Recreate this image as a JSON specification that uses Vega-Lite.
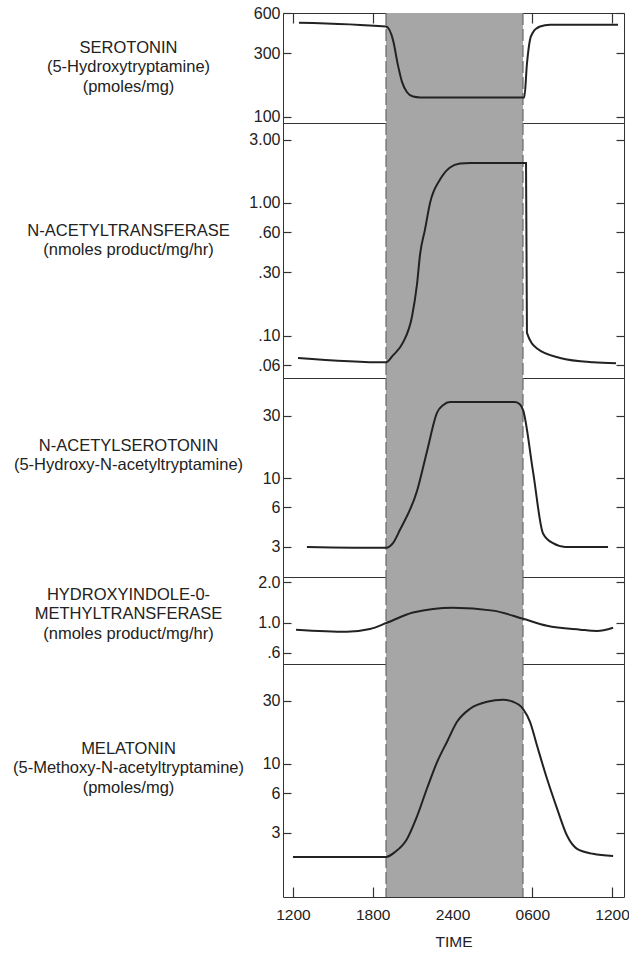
{
  "$schema": "https://vega.github.io/schema/vega-lite/v6.json",
  "padding": {"left": 11, "top": 4, "right": 2, "bottom": 0},
  "background": "white",
  "spacing": 0,
  "bounds": "flush",
  "config": {
    "font": "Liberation Sans",
    "view": {"stroke": "#333", "strokeWidth": 1},
    "axis": {
      "grid": false,
      "domain": false,
      "tickColor": "#333",
      "tickWidth": 1.2,
      "labelFont": "Liberation Sans",
      "labelFontSize": 16,
      "labelColor": "#222",
      "titleFont": "Liberation Sans",
      "titleFontSize": 16.5,
      "titleFontWeight": "normal",
      "titleColor": "#222",
      "titleLineHeight": 19.5
    }
  },
  "datasets": {
    "dark": [{"hour": 19.0, "end": 29.3}],
    "edges": [{"hour": 19.0}, {"hour": 29.3}],
    "curves": [
      {"s": "ser", "hour": 12.45, "value": 508},
      {"s": "ser", "hour": 19.0, "value": 475},
      {"s": "ser", "hour": 19.52, "value": 378},
      {"s": "ser", "hour": 19.9, "value": 243},
      {"s": "ser", "hour": 20.2, "value": 183},
      {"s": "ser", "hour": 20.58, "value": 153},
      {"s": "ser", "hour": 21.03, "value": 142},
      {"s": "ser", "hour": 21.56, "value": 140},
      {"s": "ser", "hour": 29.4, "value": 140},
      {"s": "ser", "hour": 29.6, "value": 250},
      {"s": "ser", "hour": 29.83, "value": 378},
      {"s": "ser", "hour": 30.06, "value": 430},
      {"s": "ser", "hour": 30.58, "value": 475},
      {"s": "ser", "hour": 31.34, "value": 490},
      {"s": "ser", "hour": 36.45, "value": 490},

      {"s": "nat", "hour": 12.38, "value": 0.068},
      {"s": "nat", "hour": 19.0, "value": 0.063},
      {"s": "nat", "hour": 19.52, "value": 0.071},
      {"s": "nat", "hour": 20.28, "value": 0.089},
      {"s": "nat", "hour": 20.95, "value": 0.139},
      {"s": "nat", "hour": 21.33, "value": 0.244},
      {"s": "nat", "hour": 21.56, "value": 0.41},
      {"s": "nat", "hour": 21.93, "value": 0.63},
      {"s": "nat", "hour": 22.31, "value": 1.0},
      {"s": "nat", "hour": 23.06, "value": 1.5},
      {"s": "nat", "hour": 23.81, "value": 1.85},
      {"s": "nat", "hour": 24.57, "value": 1.98},
      {"s": "nat", "hour": 25.32, "value": 2.0},
      {"s": "nat", "hour": 29.53, "value": 2.0},
      {"s": "nat", "hour": 29.6, "value": 0.105},
      {"s": "nat", "hour": 30.36, "value": 0.08},
      {"s": "nat", "hour": 32.09, "value": 0.068},
      {"s": "nat", "hour": 34.57, "value": 0.063},
      {"s": "nat", "hour": 36.3, "value": 0.062},

      {"s": "nas", "hour": 13.05, "value": 3.0},
      {"s": "nas", "hour": 19.0, "value": 2.95},
      {"s": "nas", "hour": 19.52, "value": 3.2},
      {"s": "nas", "hour": 20.05, "value": 4.05},
      {"s": "nas", "hour": 21.33, "value": 8.0},
      {"s": "nas", "hour": 22.08, "value": 16},
      {"s": "nas", "hour": 22.84, "value": 31.6},
      {"s": "nas", "hour": 23.29, "value": 36},
      {"s": "nas", "hour": 23.81, "value": 38},
      {"s": "nas", "hour": 28.7, "value": 38},
      {"s": "nas", "hour": 29.08, "value": 36.5},
      {"s": "nas", "hour": 29.31, "value": 33},
      {"s": "nas", "hour": 30.06, "value": 11.2},
      {"s": "nas", "hour": 30.81, "value": 3.8},
      {"s": "nas", "hour": 31.56, "value": 3.2},
      {"s": "nas", "hour": 32.47, "value": 3.0},
      {"s": "nas", "hour": 35.7, "value": 3.0},

      {"s": "hiomt", "hour": 12.23, "value": 0.89},
      {"s": "hiomt", "hour": 16.06, "value": 0.86},
      {"s": "hiomt", "hour": 17.79, "value": 0.9},
      {"s": "hiomt", "hour": 19.07, "value": 1.0},
      {"s": "hiomt", "hour": 21.03, "value": 1.19},
      {"s": "hiomt", "hour": 24.04, "value": 1.29},
      {"s": "hiomt", "hour": 27.05, "value": 1.23},
      {"s": "hiomt", "hour": 29.31, "value": 1.07},
      {"s": "hiomt", "hour": 31.11, "value": 0.95},
      {"s": "hiomt", "hour": 33.6, "value": 0.89},
      {"s": "hiomt", "hour": 34.87, "value": 0.87},
      {"s": "hiomt", "hour": 36.08, "value": 0.92},

      {"s": "mel", "hour": 12.0, "value": 1.97},
      {"s": "mel", "hour": 19.0, "value": 1.97},
      {"s": "mel", "hour": 19.68, "value": 2.15},
      {"s": "mel", "hour": 20.58, "value": 2.7},
      {"s": "mel", "hour": 21.33, "value": 4.0},
      {"s": "mel", "hour": 22.08, "value": 6.5},
      {"s": "mel", "hour": 22.84, "value": 10.3},
      {"s": "mel", "hour": 23.59, "value": 14.7},
      {"s": "mel", "hour": 24.34, "value": 20.8},
      {"s": "mel", "hour": 25.32, "value": 26.1},
      {"s": "mel", "hour": 26.6, "value": 29.5},
      {"s": "mel", "hour": 27.8, "value": 30.5},
      {"s": "mel", "hour": 28.55, "value": 29.5},
      {"s": "mel", "hour": 29.3, "value": 26.1},
      {"s": "mel", "hour": 29.83, "value": 20.8},
      {"s": "mel", "hour": 30.36, "value": 13.7},
      {"s": "mel", "hour": 31.11, "value": 7.7},
      {"s": "mel", "hour": 31.86, "value": 4.6},
      {"s": "mel", "hour": 32.62, "value": 2.85},
      {"s": "mel", "hour": 33.37, "value": 2.27},
      {"s": "mel", "hour": 34.57, "value": 2.08},
      {"s": "mel", "hour": 36.08, "value": 2.0}
    ]
  },
  "resolve": {"scale": {"x": "independent", "y": "independent"}},
  "vconcat": [
    {
      "width": 341,
      "height": 110,
      "encoding": {
        "x": {"field": "hour", "type": "quantitative",
          "scale": {"domain": [11.25, 36.9], "nice": false, "zero": false},
          "axis": {"orient": "top", "labels": false, "values": [12, 18, 24, 30, 36], "tickSize": -10, "title": null}}
      },
      "layer": [
        {"data": {"name": "dark"}, "mark": {"type": "rect", "color": "#a6a6a6"}, "encoding": {"x2": {"field": "end"}}},
        {"data": {"name": "edges"}, "mark": {"type": "rule", "color": "#6e6e6e", "strokeWidth": 1.3, "strokeDash": [12, 4]}, "encoding": {}},
        {"data": {"name": "curves"}, "transform": [{"filter": "datum.s == 'ser'"}],
          "mark": {"type": "line", "color": "#222", "strokeWidth": 2, "interpolate": "monotone"},
          "encoding": {"y": {"field": "value", "type": "quantitative",
            "scale": {"type": "log", "domain": [90, 600], "nice": false},
            "axis": {"values": [100, 300, 600], "format": "d", "tickSize": -8, "labelPadding": 11,
              "title": ["SEROTONIN", "(5-Hydroxytryptamine)", "(pmoles/mg)"],
              "titleAngle": 0, "titleAlign": "center", "titleBaseline": "middle", "titleX": -155, "titleY": 34}}}},
        {"data": {"name": "curves"}, "transform": [{"filter": "datum.s == 'ser'"}],
          "mark": {"type": "line", "strokeOpacity": 0},
          "encoding": {"y": {"field": "value", "type": "quantitative",
            "axis": {"orient": "right", "values": [100, 300, 600], "labels": false, "tickSize": -8, "title": null}}}}
      ],
      "resolve": {"axis": {"y": "independent"}}
    },
    {
      "width": 341,
      "height": 255,
      "encoding": {
        "x": {"field": "hour", "type": "quantitative",
          "scale": {"domain": [11.25, 36.9], "nice": false, "zero": false},
          "axis": null}
      },
      "layer": [
        {"data": {"name": "dark"}, "mark": {"type": "rect", "color": "#a6a6a6"}, "encoding": {"x2": {"field": "end"}}},
        {"data": {"name": "edges"}, "mark": {"type": "rule", "color": "#6e6e6e", "strokeWidth": 1.3, "strokeDash": [12, 4]}, "encoding": {}},
        {"data": {"name": "curves"}, "transform": [{"filter": "datum.s == 'nat'"}],
          "mark": {"type": "line", "color": "#222", "strokeWidth": 2, "interpolate": "monotone"},
          "encoding": {"y": {"field": "value", "type": "quantitative",
            "scale": {"type": "log", "domain": [0.048, 4.0], "nice": false},
            "axis": {"values": [0.06, 0.1, 0.3, 0.6, 1, 3], "labelExpr": "replace(format(datum.value, '.2f'), '0.', '.')", "tickSize": -8, "labelPadding": 11,
              "title": ["N-ACETYLTRANSFERASE", "(nmoles product/mg/hr)"],
              "titleAngle": 0, "titleAlign": "center", "titleBaseline": "middle", "titleX": -155, "titleY": 107}}}},
        {"data": {"name": "curves"}, "transform": [{"filter": "datum.s == 'nat'"}],
          "mark": {"type": "line", "strokeOpacity": 0},
          "encoding": {"y": {"field": "value", "type": "quantitative",
            "axis": {"orient": "right", "values": [0.06, 0.1, 0.3, 0.6, 1, 3], "labels": false, "tickSize": -8, "title": null}}}}
      ],
      "resolve": {"axis": {"y": "independent"}}
    },
    {
      "width": 341,
      "height": 199,
      "encoding": {
        "x": {"field": "hour", "type": "quantitative",
          "scale": {"domain": [11.25, 36.9], "nice": false, "zero": false},
          "axis": null}
      },
      "layer": [
        {"data": {"name": "dark"}, "mark": {"type": "rect", "color": "#a6a6a6"}, "encoding": {"x2": {"field": "end"}}},
        {"data": {"name": "edges"}, "mark": {"type": "rule", "color": "#6e6e6e", "strokeWidth": 1.3, "strokeDash": [12, 4]}, "encoding": {}},
        {"data": {"name": "curves"}, "transform": [{"filter": "datum.s == 'nas'"}],
          "mark": {"type": "line", "color": "#222", "strokeWidth": 2, "interpolate": "monotone"},
          "encoding": {"y": {"field": "value", "type": "quantitative",
            "scale": {"type": "log", "domain": [1.77, 58], "nice": false},
            "axis": {"values": [3, 6, 10, 30], "format": "d", "tickSize": -8, "labelPadding": 11,
              "title": ["N-ACETYLSEROTONIN", "(5-Hydroxy-N-acetyltryptamine)"],
              "titleAngle": 0, "titleAlign": "center", "titleBaseline": "middle", "titleX": -155, "titleY": 67}}}},
        {"data": {"name": "curves"}, "transform": [{"filter": "datum.s == 'nas'"}],
          "mark": {"type": "line", "strokeOpacity": 0},
          "encoding": {"y": {"field": "value", "type": "quantitative",
            "axis": {"orient": "right", "values": [3, 6, 10, 30], "labels": false, "tickSize": -8, "title": null}}}}
      ],
      "resolve": {"axis": {"y": "independent"}}
    },
    {
      "width": 341,
      "height": 87,
      "encoding": {
        "x": {"field": "hour", "type": "quantitative",
          "scale": {"domain": [11.25, 36.9], "nice": false, "zero": false},
          "axis": null}
      },
      "layer": [
        {"data": {"name": "dark"}, "mark": {"type": "rect", "color": "#a6a6a6"}, "encoding": {"x2": {"field": "end"}}},
        {"data": {"name": "edges"}, "mark": {"type": "rule", "color": "#6e6e6e", "strokeWidth": 1.3, "strokeDash": [12, 4]}, "encoding": {}},
        {"data": {"name": "curves"}, "transform": [{"filter": "datum.s == 'hiomt'"}],
          "mark": {"type": "line", "color": "#222", "strokeWidth": 2, "interpolate": "monotone"},
          "encoding": {"y": {"field": "value", "type": "quantitative",
            "scale": {"type": "log", "domain": [0.496, 2.18], "nice": false},
            "axis": {"values": [0.6, 1, 2], "labelExpr": "replace(format(datum.value, '.1f'), '0.', '.')", "tickSize": -8, "labelPadding": 11,
              "title": ["HYDROXYINDOLE-0-", "METHYLTRANSFERASE", "(nmoles product/mg/hr)"],
              "titleAngle": 0, "titleAlign": "center", "titleBaseline": "middle", "titleX": -155, "titleY": 17}}}},
        {"data": {"name": "curves"}, "transform": [{"filter": "datum.s == 'hiomt'"}],
          "mark": {"type": "line", "strokeOpacity": 0},
          "encoding": {"y": {"field": "value", "type": "quantitative",
            "axis": {"orient": "right", "values": [0.6, 1, 2], "labels": false, "tickSize": -8, "title": null}}}}
      ],
      "resolve": {"axis": {"y": "independent"}}
    },
    {
      "width": 341,
      "height": 233,
      "encoding": {
        "x": {"field": "hour", "type": "quantitative",
          "scale": {"domain": [11.25, 36.9], "nice": false, "zero": false},
          "axis": {"orient": "bottom", "values": [12, 18, 24, 30, 36], "tickSize": -10, "labelPadding": 20, "labelFontSize": 15.5,
            "labelExpr": "datum.value == 18 ? '1800' : datum.value == 24 ? '2400' : datum.value == 30 ? '0600' : '1200'",
            "title": "TIME", "titlePadding": 12, "titleFontSize": 15.5}}
      },
      "layer": [
        {"data": {"name": "dark"}, "mark": {"type": "rect", "color": "#a6a6a6"}, "encoding": {"x2": {"field": "end"}}},
        {"data": {"name": "edges"}, "mark": {"type": "rule", "color": "#6e6e6e", "strokeWidth": 1.3, "strokeDash": [12, 4]}, "encoding": {}},
        {"data": {"name": "curves"}, "transform": [{"filter": "datum.s == 'mel'"}],
          "mark": {"type": "line", "color": "#222", "strokeWidth": 2, "interpolate": "monotone"},
          "encoding": {"y": {"field": "value", "type": "quantitative",
            "scale": {"type": "log", "domain": [0.98, 57], "nice": false},
            "axis": {"values": [3, 6, 10, 30], "format": "d", "tickSize": -8, "labelPadding": 11,
              "title": ["MELATONIN", "(5-Methoxy-N-acetyltryptamine)", "(pmoles/mg)"],
              "titleAngle": 0, "titleAlign": "center", "titleBaseline": "middle", "titleX": -155, "titleY": 84}}}},
        {"data": {"name": "curves"}, "transform": [{"filter": "datum.s == 'mel'"}],
          "mark": {"type": "line", "strokeOpacity": 0},
          "encoding": {"y": {"field": "value", "type": "quantitative",
            "axis": {"orient": "right", "values": [3, 6, 10, 30], "labels": false, "tickSize": -8, "title": null}}}}
      ],
      "resolve": {"axis": {"y": "independent"}}
    }
  ]
}
